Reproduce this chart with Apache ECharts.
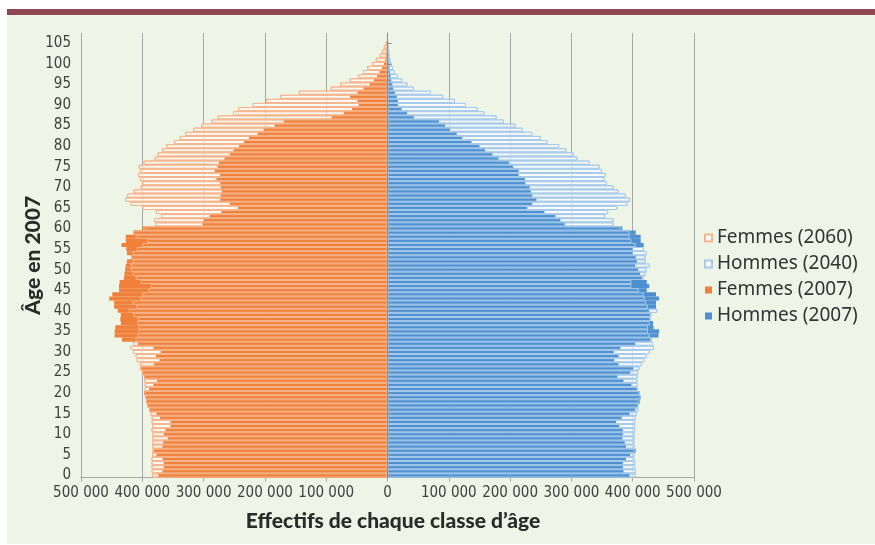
<!DOCTYPE html>
<html lang="fr">
<head>
<meta charset="utf-8">
<title>Pyramide des âges</title>
<script src="https://cdn.jsdelivr.net/npm/echarts@6.0.0/dist/echarts.min.js"></script>
<style>
  html, body { margin: 0; padding: 0; background: #fff; }
  .panel {
    position: absolute; left: 7px; top: 9px; width: 868px; height: 535px;
    background: #eef4e6; border-top: 6px solid #8e4652; box-sizing: border-box;
  }
  #chart { position: absolute; left: 0; top: 0; width: 875px; height: 545px; }
</style>
</head>
<body>
<div class="panel"></div>
<div id="chart"></div>
<script>
// âges 0 à 107 (les deux derniers restent vides)
const ages = Array.from({ length: 108 }, (_, i) => String(i))

// effectifs en milliers, index = âge en 2007
const femmes2007 = [
  374, 367, 365, 365, 367, 377, 381, 367, 366, 358,
  365, 362, 354, 354, 371, 377, 388, 392, 394, 395,
  397, 389, 382, 376, 397, 400, 403, 381, 372, 378,
  370, 382, 407, 433, 445, 445, 444, 435, 436, 435,
  440, 446, 446, 454, 449, 438, 438, 437, 430, 429,
  428, 427, 425, 418, 425, 426, 434, 427, 427, 415,
  400, 302, 300, 290, 271, 244, 257, 273, 272, 270,
  272, 273, 279, 273, 282, 277, 275, 266, 257, 251,
  242, 234, 226, 212, 202, 184, 169, 91, 71, 58,
  47, 49, 61, 49, 39, 29, 22, 17, 13, 9,
  6, 3.5, 2.5, 1.5, 1, 0.5
]
const femmes2060 = [
  384, 385, 385, 385, 385, 384, 384, 384, 384, 384,
  384, 385, 384, 385, 385, 387, 389, 392, 394, 395,
  396, 396, 396, 397, 397, 400, 403, 404, 409, 411,
  415, 419, 415, 411, 408, 406, 406, 408, 408, 415,
  422, 410, 416, 403, 400, 390, 386, 403, 411, 416,
  419, 419, 416, 418, 416, 409, 400, 392, 411, 415,
  398, 379, 381, 369, 378, 400, 419, 428, 425, 414,
  403, 400, 404, 407, 404, 406, 398, 380, 375, 368,
  361, 348, 339, 330, 317, 304, 287, 277, 252, 244,
  220, 198, 175, 145, 93, 77, 62, 48, 40, 33,
  25, 19, 13, 9, 6, 3
]
const hommes2007 = [
  395, 385, 384, 384, 389, 396, 405, 389, 387, 383,
  384, 384, 378, 373, 382, 395, 404, 409, 412, 413,
  411, 407, 398, 385, 375, 396, 401, 377, 370, 377,
  369, 380, 404, 429, 442, 443, 434, 433, 428, 428,
  427, 438, 438, 443, 438, 423, 427, 423, 415, 412,
  409, 404, 407, 405, 400, 400, 418, 413, 413, 405,
  383, 289, 282, 274, 256, 228, 236, 243, 236, 234,
  232, 225, 224, 214, 214, 205, 198, 181, 171, 159,
  150, 137, 122, 113, 102, 94, 84, 43, 32, 23,
  17, 17, 15, 12, 9, 8, 6, 5, 4, 3,
  3, 2, 1.5, 1, 0.5, 0.3
]
const hommes2040 = [
  405, 405, 404, 404, 403, 403, 403, 403, 403, 403,
  403, 404, 404, 404, 405, 407, 409, 409, 411, 413,
  411, 408, 408, 408, 408, 409, 411, 415, 419, 423,
  428, 435, 433, 431, 428, 425, 425, 428, 429, 431,
  440, 425, 422, 420, 418, 410, 398, 398, 418, 421,
  423, 428, 421, 421, 423, 418, 405, 398, 395, 395,
  380, 369, 369, 355, 360, 375, 392, 396, 389, 377,
  369, 358, 354, 356, 350, 346, 330, 310, 304, 292,
  280, 261, 250, 236, 221, 209, 190, 178, 158, 147,
  128, 110, 91, 71, 43, 33, 24, 17, 12, 9,
  6.5, 5, 4, 3, 1.5, 1
]

const seriesNames = ['Femmes (2060)', 'Hommes (2040)', 'Femmes (2007)', 'Hommes (2007)']

const orange = '#f0813b'
const bleu = '#4f90d0'
const orangeClair = '#f5b68e'
const bleuClair = '#a8cbeb'
const narrowFont = "'Liberation Sans Narrow', 'DejaVu Sans Condensed', sans-serif"
const titleStyle = { fontFamily: 'Lato', fontWeight: 900, fontSize: 21, color: '#2b2b2b' }

const chart = echarts.init(document.getElementById('chart'))

// les femmes à gauche : valeurs négatives
const neg = (arr) => arr.map((v) => -v)

function barSerie(name, data, itemStyle, extra) {
  return Object.assign({
    name: name,
    type: 'bar',
    data: data,
    barGap: '-100%',
    barCategoryGap: '0%',
    itemStyle: itemStyle,
    emphasis: { disabled: true },
    animation: false,
  }, extra || {})
}

const option = {
  backgroundColor: 'transparent',
  grid: { left: 81, right: 181, top: 33, bottom: 67.5, outerBoundsMode: 'none' },
  legend: {
    orient: 'vertical',
    left: 704,
    top: 228,
    padding: 0,
    icon: 'rect',
    itemWidth: 7,
    itemHeight: 7,
    itemGap: 6,
    selectedMode: false,
    data: seriesNames,
    textStyle: { fontFamily: 'Noto Sans', fontSize: 19, color: '#333', lineHeight: 20 },
  },
  xAxis: {
    type: 'value',
    min: -500,
    max: 500,
    interval: 100,
    name: 'Effectifs de chaque classe d’âge',
    nameLocation: 'middle',
    nameGap: 33,
    nameMoveOverlap: false,
    nameTextStyle: Object.assign({ padding: [0, 0, 0, 11] }, titleStyle),
    axisLine: { show: true, lineStyle: { color: '#a6a6a6', width: 1 } },
    axisTick: { show: true, length: 4, lineStyle: { color: '#a6a6a6' } },
    axisLabel: {
      color: '#404040',
      fontFamily: narrowFont,
      fontSize: 15,
      margin: 8,
      formatter: (v) => (v === 0 ? '0' : Math.abs(v) + ' 000'),
    },
    splitLine: { show: true, lineStyle: { color: '#a6a6a6', width: 1 } },
  },
  yAxis: [
    {
      type: 'category',
      data: ages,
      name: 'Âge en 2007',
      nameLocation: 'middle',
      nameRotate: 90,
      nameGap: 37,
      nameMoveOverlap: false,
      nameTextStyle: titleStyle,
      axisLine: { show: false, onZero: false },
      axisTick: { show: false },
      axisLabel: { interval: 4, margin: 10, color: '#404040', fontFamily: narrowFont, fontSize: 15 },
      splitLine: { show: false },
    },
    {
      // axe vertical au zéro, sans libellés
      type: 'category',
      data: ages,
      z: 10,
      axisLine: { show: true, onZero: true, lineStyle: { color: '#8c8c8c', width: 1 } },
      axisTick: { show: true, interval: 4, alignWithLabel: true, length: 4, lineStyle: { color: '#8c8c8c' } },
      axisLabel: { show: false },
      splitLine: { show: false },
    },
  ],
  series: [
    barSerie(seriesNames[0], neg(femmes2060),
      { color: 'rgba(255,255,255,0.65)', borderColor: orangeClair, borderWidth: 1 }),
    barSerie(seriesNames[1], hommes2040,
      { color: 'rgba(255,255,255,0.65)', borderColor: bleuClair, borderWidth: 1 }),
    barSerie(seriesNames[2], neg(femmes2007), { color: orange }),
    barSerie(seriesNames[3], hommes2007, { color: bleu }),
    // contours 2060 / 2040 redessinés par-dessus les barres 2007
    barSerie(seriesNames[0], neg(femmes2060),
      { color: 'rgba(0,0,0,0)', borderColor: orangeClair, borderWidth: 1 }, { silent: true }),
    barSerie(seriesNames[1], hommes2040,
      { color: 'rgba(0,0,0,0)', borderColor: bleuClair, borderWidth: 1 }, { silent: true }),
  ],
}

chart.setOption(option)
</script>
</body>
</html>
